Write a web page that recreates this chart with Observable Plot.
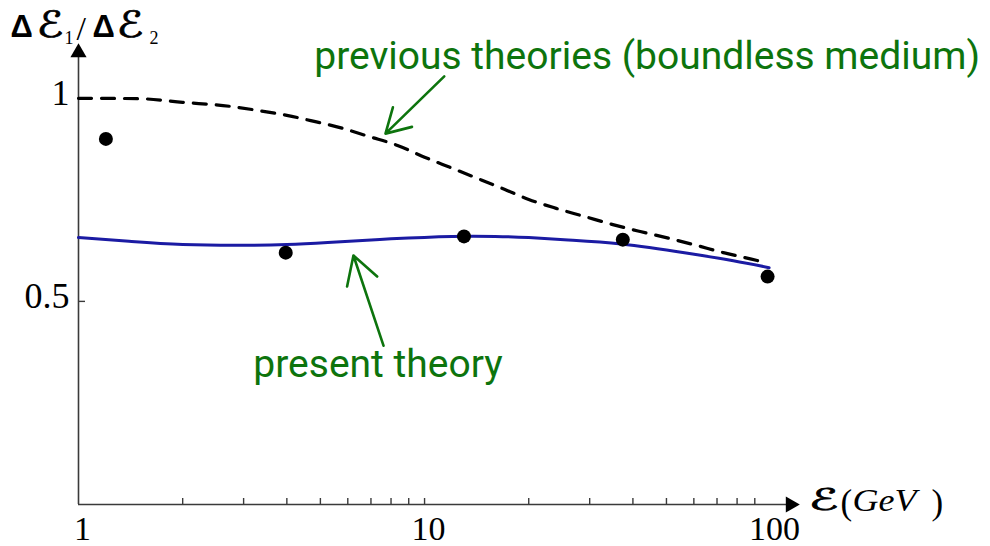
<!DOCTYPE html>
<html>
<head>
<meta charset="utf-8">
<script src="https://cdn.jsdelivr.net/npm/d3@7"></script>
<script src="https://cdn.jsdelivr.net/npm/@observablehq/plot@0.6"></script>
<style>
  html, body { margin: 0; padding: 0; background: #fff; }
  #chart svg { display: block; overflow: visible; }
</style>
</head>
<body>
<div id="chart"></div>
<script>
// Energy-loss ratio ΔE1/ΔE2 versus beam energy E (GeV)

// Measured points
const measE = [1.2, 3.97, 13, 37.4, 98];
const measRatio = [0.9, 0.62, 0.66, 0.652, 0.561];

// Previous theories (boundless medium), dashed curve
const prevE = [1, 1.5, 2, 2.75, 3.3, 4, 4.8, 5.8, 6.9, 8.35, 10, 12, 14.2, 17, 20, 24, 29, 35, 42, 51, 61, 73, 88, 92];
const prevRatio = [1.0, 0.999, 0.99, 0.98, 0.97, 0.958, 0.943, 0.926, 0.906, 0.884, 0.855, 0.828, 0.803, 0.776, 0.751, 0.729, 0.709, 0.689, 0.672, 0.655, 0.638, 0.62, 0.604, 0.6];

// Present theory, solid curve
const presE = [1, 1.4, 2, 3, 4, 5.25, 8, 12, 16, 20, 26, 37, 57, 78, 99];
const presRatio = [0.657, 0.648, 0.64, 0.638, 0.64, 0.645, 0.654, 0.66, 0.66, 0.657, 0.651, 0.641, 0.619, 0.6, 0.583];

// Axis ticks
const xTickLabels = [1, 10, 100];
const xMinorTicks = [2, 3, 4, 5, 6, 7, 8, 9, 10, 20, 30, 40, 50, 60, 70, 80, 90];
const yTickLabels = [0.5, 1];

// Callouts (text anchor and arrow, in data units)
const calloutText = ["previous theories (boundless medium)", "present theory"];
const calloutTextE = [4.8, 3.2];
const calloutTextRatio = [1.073, 0.313];
const arrowFromE = [11.4, 7.61];
const arrowFromRatio = [1.054, 0.391];
const arrowToE = [7.71, 6.23];
const arrowToRatio = [0.913, 0.613];

const zip = (xs, ys) => xs.map((x, i) => ({x, y: ys[i]}));
const measured = zip(measE, measRatio);
const previous = zip(prevE, prevRatio);
const present = zip(presE, presRatio);
const labels = calloutText.map((t, i) => ({text: t, x: calloutTextE[i], y: calloutTextRatio[i]}));
const arrows = arrowFromE.map((x1, i) => ({x1, y1: arrowFromRatio[i], x2: arrowToE[i], y2: arrowToRatio[i]}));

const green = "#0d740d";
const axisColor = "#3a3a3a";
const serif = "Liberation Serif, Times New Roman, serif";
const scriptFont = "DejaVu Serif, DejaVu Sans, serif";
const boldSans = "Liberation Sans, Arial, sans-serif";

// small helper for the pieces of the axis titles
const piece = (s, anchor, dx, dy, opts) =>
  Plot.text([s], {frameAnchor: anchor, dx, dy, textAnchor: "start", lineAnchor: "bottom", fill: "#000", ...opts});

const chart = Plot.plot({
  width: 990,
  height: 546,
  marginLeft: 78,
  marginRight: 195,
  marginTop: 47,
  marginBottom: 42,
  style: {fontFamily: serif, background: "#fff", color: "#000"},
  x: {type: "log", domain: [1, 118], axis: null},
  y: {domain: [0, 1.125], axis: null},
  marks: [
    // axes with arrowheads
    Plot.ruleX([1], {stroke: axisColor, strokeWidth: 1.6}),
    Plot.ruleY([0], {stroke: axisColor, strokeWidth: 1.6}),
    Plot.dot([0], {y: () => 0, frameAnchor: "right", dx: -5, symbol: "triangle", rotate: 90, r: 6, fill: "#000", stroke: null}),
    Plot.dot([0], {x: () => 1, frameAnchor: "top", dy: 5, symbol: "triangle", r: 6, fill: "#000", stroke: null}),
    // inward ticks
    Plot.axisX({ticks: xMinorTicks, tickSize: 6, dy: -6, tickFormat: () => "", stroke: axisColor, strokeWidth: 1.4}),
    Plot.axisY({ticks: yTickLabels, tickSize: 7, dx: 7, tickFormat: () => "", stroke: axisColor, strokeWidth: 1.4}),
    // tick labels
    Plot.axisX({ticks: xTickLabels, tickSize: 0, tickPadding: 11, dx: 4, fontSize: 34, tickFormat: d => String(d), fill: "#000"}),
    Plot.axisY({ticks: yTickLabels, tickSize: 0, tickPadding: 9, dy: -5, fontSize: 36, tickFormat: d => String(d), fill: "#000"}),
    // curves
    Plot.line(previous, {x: "x", y: "y", stroke: "#000", strokeWidth: 3.2, strokeDasharray: "13,10", curve: "monotone-x"}),
    Plot.line(present, {x: "x", y: "y", stroke: "#1b1ba3", strokeWidth: 3, curve: "natural"}),
    Plot.dot(measured, {x: "x", y: "y", r: 7, fill: "#000"}),
    // callouts
    Plot.arrow(arrows, {x1: "x1", y1: "y1", x2: "x2", y2: "y2", stroke: green, strokeWidth: 2.6, headLength: 20}),
    Plot.text(labels, {x: "x", y: "y", text: "text", textAnchor: "start", lineAnchor: "bottom", fill: green, fontSize: 39, fontFamily: "Roboto, sans-serif"}),
    // y-axis title: ΔE1 / ΔE2
    piece("Δ", "top-left", -68, -11, {fontSize: 31, fontWeight: "bold", fontFamily: boldSans}),
    piece("ℰ", "top-left", -42, -11, {fontSize: 36, fontFamily: scriptFont, stroke: "#000", strokeWidth: 0.7}),
    piece("1", "top-left", -14, -4, {fontSize: 18}),
    piece("/", "top-left", -2, -8, {fontSize: 34}),
    piece("Δ", "top-left", 14, -11, {fontSize: 31, fontWeight: "bold", fontFamily: boldSans}),
    piece("ℰ", "top-left", 38, -11, {fontSize: 36, fontFamily: scriptFont, stroke: "#000", strokeWidth: 0.7}),
    piece("2", "top-left", 71, -4, {fontSize: 18}),
    // x-axis title: E (GeV)
    piece("ℰ", "bottom-right", 13, 5, {fontSize: 30, fontFamily: scriptFont, stroke: "#000", strokeWidth: 0.7}),
    piece("(", "bottom-right", 45, 9, {fontSize: 35}),
    piece("GeV", "bottom-right", 57, 6, {fontSize: 32, fontStyle: "italic"}),
    piece(")", "bottom-right", 136, 9, {fontSize: 35})
  ]
});

// Fit the script capitals and the unit lettering to their slots
const textWidths = {"GeV": 64};
const scriptWidths = {"36": 27, "30": 30};
chart.querySelectorAll("text").forEach(t => {
  let w = textWidths[t.textContent];
  if (t.textContent === "ℰ") {
    const g = t.closest("g[font-size]");
    w = g ? scriptWidths[g.getAttribute("font-size")] : null;
  }
  if (w) {
    t.setAttribute("textLength", w);
    t.setAttribute("lengthAdjust", "spacingAndGlyphs");
  }
});

document.getElementById("chart").appendChild(chart);
</script>
</body>
</html>
